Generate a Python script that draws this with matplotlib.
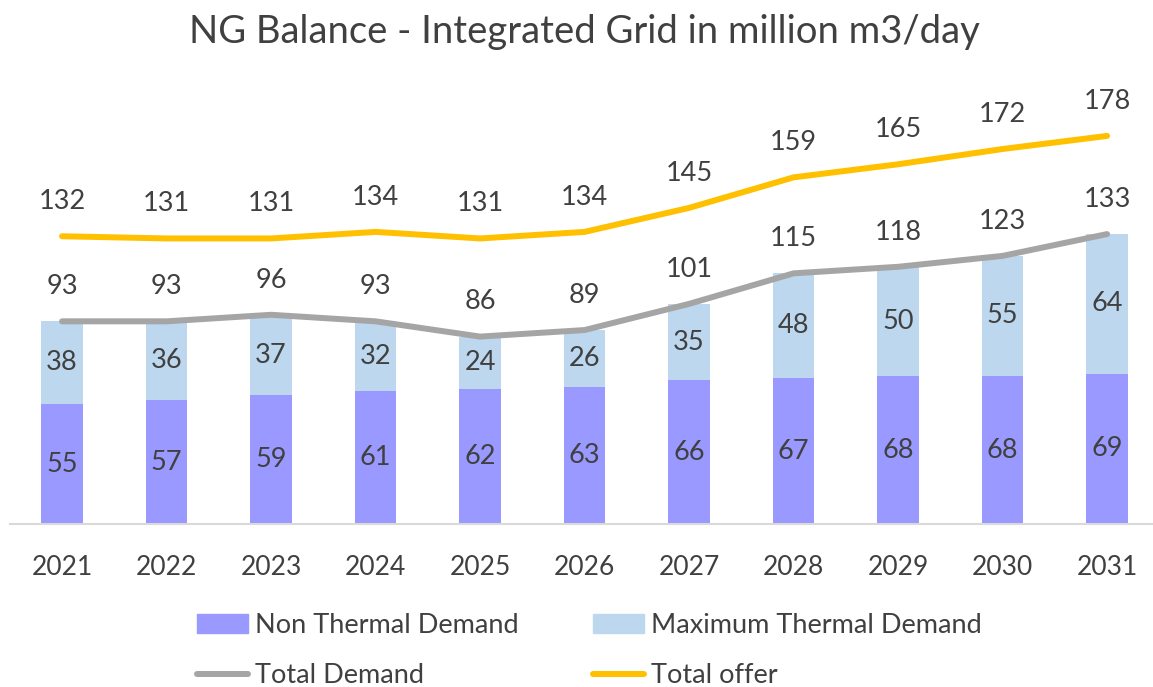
import numpy as np
import matplotlib.pyplot as plt
from matplotlib.patches import Patch
from matplotlib.lines import Line2D

plt.rcParams['font.family'] = ['Lato', 'DejaVu Sans']

years = ['2021', '2022', '2023', '2024', '2025', '2026', '2027', '2028', '2029', '2030', '2031']
non_thermal = [55, 57, 59, 61, 62, 63, 66, 67, 68, 68, 69]
max_thermal = [38, 36, 37, 32, 24, 26, 35, 48, 50, 55, 64]
total_demand = [93, 93, 96, 93, 86, 89, 101, 115, 118, 123, 133]
total_offer = [132, 131, 131, 134, 131, 134, 145, 159, 165, 172, 178]

txt = '#404040'
c_nt = '#9999FF'
c_mt = '#BDD7EE'
c_td = '#A5A5A5'
c_to = '#FFC000'

fig = plt.figure(figsize=(11.53, 6.87), dpi=100)
ax = fig.add_axes([0.0085, 0.237, 0.997, 0.635])

x = np.arange(len(years))
w = 0.4
ax.bar(x, non_thermal, w, color=c_nt, zorder=2)
ax.bar(x, max_thermal, w, bottom=non_thermal, color=c_mt, zorder=2)
ax.plot(x, total_demand, color=c_td, lw=4.3, solid_capstyle='round', zorder=3)
ax.plot(x, total_offer, color=c_to, lw=4.3, solid_capstyle='round', zorder=3)

for i in range(len(x)):
    ax.text(x[i], non_thermal[i] / 2, str(non_thermal[i]), ha='center', va='center', fontsize=19.5, color=txt, zorder=4)
    ax.text(x[i], non_thermal[i] + max_thermal[i] / 2, str(max_thermal[i]), ha='center', va='center', fontsize=19.5, color=txt, zorder=4)
    ax.annotate(str(total_demand[i]), (x[i], total_demand[i]), xytext=(0, 25), textcoords='offset points',
                ha='center', va='center', fontsize=19.5, color=txt)
    ax.annotate(str(total_offer[i]), (x[i], total_offer[i]), xytext=(0, 25), textcoords='offset points',
                ha='center', va='center', fontsize=19.5, color=txt)

ax.set_xlim(-0.5, 10.5)
ax.set_ylim(0, 200)
ax.set_xticks(x)
ax.set_xticklabels(years, fontsize=19, color=txt)
ax.tick_params(axis='x', length=0, pad=22)
ax.set_yticks([])
for s in ['top', 'right', 'left']:
    ax.spines[s].set_visible(False)
ax.spines['bottom'].set_color('#D9D9D9')
ax.spines['bottom'].set_linewidth(1.5)

fig.text(0.507, 0.953, 'NG Balance - Integrated Grid in million m3/day', ha='center', va='center',
         fontsize=27.5, color=txt)

handles = [Patch(color=c_nt), Line2D([], [], color=c_td, lw=4.3, solid_capstyle='round'),
           Patch(color=c_mt), Line2D([], [], color=c_to, lw=4.3, solid_capstyle='round')]
labels = ['Non Thermal Demand', 'Total Demand', 'Maximum Thermal Demand', 'Total offer']
leg = fig.legend(handles, labels, ncol=2, loc='center', bbox_to_anchor=(0.511, 0.053), frameon=False,
                 fontsize=19.5, handlelength=1.9, handletextpad=0.25, columnspacing=2.75, labelspacing=0.95)
for t in leg.get_texts():
    t.set_color(txt)

fig.savefig('out.png', dpi=100)
